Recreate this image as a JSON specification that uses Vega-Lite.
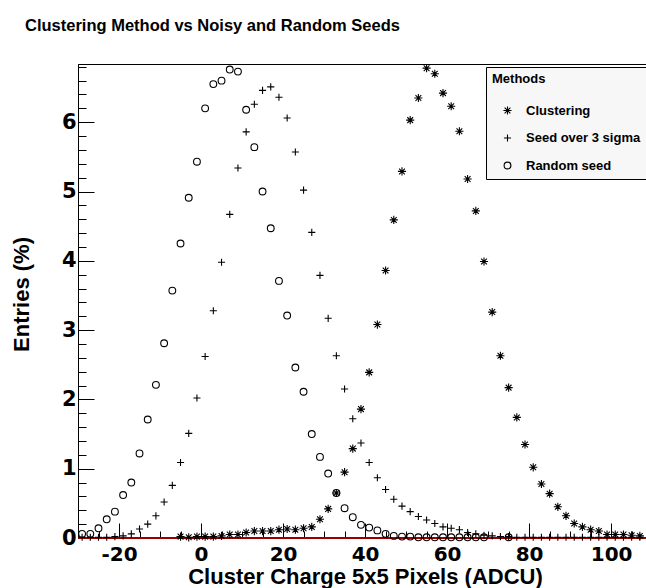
{
  "$schema": "https://vega.github.io/schema/vega-lite/v6.json",
  "autosize": "none",
  "width": 568,
  "height": 474,
  "padding": {"left": 78, "top": 64, "right": 0, "bottom": 50},
  "background": "white",
  "title": {
    "text": "Clustering Method vs Noisy and Random Seeds",
    "anchor": "start",
    "frame": "group",
    "dx": -53,
    "offset": 14,
    "baseline": "alphabetic",
    "font": "Liberation Sans",
    "fontSize": 16.5,
    "fontWeight": "bold",
    "color": "black"
  },
  "config": {
    "view": {"stroke": "black", "strokeWidth": 1},
    "axis": {"grid": false, "domainColor": "black", "tickColor": "black", "labelColor": "black", "titleColor": "black"}
  },
  "data": {"values": [
      {"method": "Clustering", "charge": -5, "entries": 0.02},
      {"method": "Clustering", "charge": -3, "entries": 0.01},
      {"method": "Clustering", "charge": -1, "entries": 0.02},
      {"method": "Clustering", "charge": 1, "entries": 0.02},
      {"method": "Clustering", "charge": 3, "entries": 0.02},
      {"method": "Clustering", "charge": 5, "entries": 0.03},
      {"method": "Clustering", "charge": 7, "entries": 0.05},
      {"method": "Clustering", "charge": 9, "entries": 0.05},
      {"method": "Clustering", "charge": 11, "entries": 0.08},
      {"method": "Clustering", "charge": 13, "entries": 0.10},
      {"method": "Clustering", "charge": 15, "entries": 0.10},
      {"method": "Clustering", "charge": 17, "entries": 0.10},
      {"method": "Clustering", "charge": 19, "entries": 0.12},
      {"method": "Clustering", "charge": 21, "entries": 0.13},
      {"method": "Clustering", "charge": 23, "entries": 0.12},
      {"method": "Clustering", "charge": 25, "entries": 0.14},
      {"method": "Clustering", "charge": 27, "entries": 0.16},
      {"method": "Clustering", "charge": 29, "entries": 0.27},
      {"method": "Clustering", "charge": 31, "entries": 0.42},
      {"method": "Clustering", "charge": 33, "entries": 0.65},
      {"method": "Clustering", "charge": 35, "entries": 0.95},
      {"method": "Clustering", "charge": 37, "entries": 1.29},
      {"method": "Clustering", "charge": 39, "entries": 1.86},
      {"method": "Clustering", "charge": 41, "entries": 2.39},
      {"method": "Clustering", "charge": 43, "entries": 3.08},
      {"method": "Clustering", "charge": 45, "entries": 3.86},
      {"method": "Clustering", "charge": 47, "entries": 4.59},
      {"method": "Clustering", "charge": 49, "entries": 5.29},
      {"method": "Clustering", "charge": 51, "entries": 6.03},
      {"method": "Clustering", "charge": 53, "entries": 6.35},
      {"method": "Clustering", "charge": 55, "entries": 6.78},
      {"method": "Clustering", "charge": 57, "entries": 6.70},
      {"method": "Clustering", "charge": 59, "entries": 6.42},
      {"method": "Clustering", "charge": 61, "entries": 6.23},
      {"method": "Clustering", "charge": 63, "entries": 5.87},
      {"method": "Clustering", "charge": 65, "entries": 5.18},
      {"method": "Clustering", "charge": 67, "entries": 4.72},
      {"method": "Clustering", "charge": 69, "entries": 3.99},
      {"method": "Clustering", "charge": 71, "entries": 3.26},
      {"method": "Clustering", "charge": 73, "entries": 2.63},
      {"method": "Clustering", "charge": 75, "entries": 2.17},
      {"method": "Clustering", "charge": 77, "entries": 1.74},
      {"method": "Clustering", "charge": 79, "entries": 1.35},
      {"method": "Clustering", "charge": 81, "entries": 1.02},
      {"method": "Clustering", "charge": 83, "entries": 0.78},
      {"method": "Clustering", "charge": 85, "entries": 0.64},
      {"method": "Clustering", "charge": 87, "entries": 0.45},
      {"method": "Clustering", "charge": 89, "entries": 0.32},
      {"method": "Clustering", "charge": 91, "entries": 0.21},
      {"method": "Clustering", "charge": 93, "entries": 0.16},
      {"method": "Clustering", "charge": 95, "entries": 0.12},
      {"method": "Clustering", "charge": 97, "entries": 0.10},
      {"method": "Clustering", "charge": 99, "entries": 0.05},
      {"method": "Clustering", "charge": 101, "entries": 0.05},
      {"method": "Clustering", "charge": 103, "entries": 0.05},
      {"method": "Clustering", "charge": 105, "entries": 0.04},
      {"method": "Clustering", "charge": 107, "entries": 0.03},
      {"method": "Seed over 3 sigma", "charge": -29, "entries": 0.01},
      {"method": "Seed over 3 sigma", "charge": -27, "entries": 0.01},
      {"method": "Seed over 3 sigma", "charge": -25, "entries": 0.01},
      {"method": "Seed over 3 sigma", "charge": -23, "entries": 0.01},
      {"method": "Seed over 3 sigma", "charge": -21, "entries": 0.02},
      {"method": "Seed over 3 sigma", "charge": -19, "entries": 0.03},
      {"method": "Seed over 3 sigma", "charge": -17, "entries": 0.06},
      {"method": "Seed over 3 sigma", "charge": -15, "entries": 0.13},
      {"method": "Seed over 3 sigma", "charge": -13, "entries": 0.20},
      {"method": "Seed over 3 sigma", "charge": -11, "entries": 0.32},
      {"method": "Seed over 3 sigma", "charge": -9, "entries": 0.52},
      {"method": "Seed over 3 sigma", "charge": -7, "entries": 0.76},
      {"method": "Seed over 3 sigma", "charge": -5, "entries": 1.09},
      {"method": "Seed over 3 sigma", "charge": -3, "entries": 1.51},
      {"method": "Seed over 3 sigma", "charge": -1, "entries": 2.02},
      {"method": "Seed over 3 sigma", "charge": 1, "entries": 2.62},
      {"method": "Seed over 3 sigma", "charge": 3, "entries": 3.28},
      {"method": "Seed over 3 sigma", "charge": 5, "entries": 3.98},
      {"method": "Seed over 3 sigma", "charge": 7, "entries": 4.67},
      {"method": "Seed over 3 sigma", "charge": 9, "entries": 5.34},
      {"method": "Seed over 3 sigma", "charge": 11, "entries": 5.86},
      {"method": "Seed over 3 sigma", "charge": 13, "entries": 6.26},
      {"method": "Seed over 3 sigma", "charge": 15, "entries": 6.46},
      {"method": "Seed over 3 sigma", "charge": 17, "entries": 6.51},
      {"method": "Seed over 3 sigma", "charge": 19, "entries": 6.36},
      {"method": "Seed over 3 sigma", "charge": 21, "entries": 6.06},
      {"method": "Seed over 3 sigma", "charge": 23, "entries": 5.57},
      {"method": "Seed over 3 sigma", "charge": 25, "entries": 5.02},
      {"method": "Seed over 3 sigma", "charge": 27, "entries": 4.41},
      {"method": "Seed over 3 sigma", "charge": 29, "entries": 3.79},
      {"method": "Seed over 3 sigma", "charge": 31, "entries": 3.17},
      {"method": "Seed over 3 sigma", "charge": 33, "entries": 2.63},
      {"method": "Seed over 3 sigma", "charge": 35, "entries": 2.15},
      {"method": "Seed over 3 sigma", "charge": 37, "entries": 1.72},
      {"method": "Seed over 3 sigma", "charge": 39, "entries": 1.37},
      {"method": "Seed over 3 sigma", "charge": 41, "entries": 1.09},
      {"method": "Seed over 3 sigma", "charge": 43, "entries": 0.87},
      {"method": "Seed over 3 sigma", "charge": 45, "entries": 0.70},
      {"method": "Seed over 3 sigma", "charge": 47, "entries": 0.56},
      {"method": "Seed over 3 sigma", "charge": 49, "entries": 0.46},
      {"method": "Seed over 3 sigma", "charge": 51, "entries": 0.38},
      {"method": "Seed over 3 sigma", "charge": 53, "entries": 0.31},
      {"method": "Seed over 3 sigma", "charge": 55, "entries": 0.26},
      {"method": "Seed over 3 sigma", "charge": 57, "entries": 0.21},
      {"method": "Seed over 3 sigma", "charge": 59, "entries": 0.16},
      {"method": "Seed over 3 sigma", "charge": 61, "entries": 0.14},
      {"method": "Seed over 3 sigma", "charge": 63, "entries": 0.12},
      {"method": "Seed over 3 sigma", "charge": 65, "entries": 0.08},
      {"method": "Seed over 3 sigma", "charge": 67, "entries": 0.06},
      {"method": "Seed over 3 sigma", "charge": 69, "entries": 0.04},
      {"method": "Seed over 3 sigma", "charge": 71, "entries": 0.03},
      {"method": "Seed over 3 sigma", "charge": 73, "entries": 0.02},
      {"method": "Seed over 3 sigma", "charge": 75, "entries": 0.02},
      {"method": "Seed over 3 sigma", "charge": 77, "entries": 0.01},
      {"method": "Seed over 3 sigma", "charge": 79, "entries": 0.01},
      {"method": "Seed over 3 sigma", "charge": 81, "entries": 0.01},
      {"method": "Seed over 3 sigma", "charge": 83, "entries": 0.01},
      {"method": "Seed over 3 sigma", "charge": 85, "entries": 0.01},
      {"method": "Seed over 3 sigma", "charge": 87, "entries": 0.01},
      {"method": "Seed over 3 sigma", "charge": 89, "entries": 0.01},
      {"method": "Seed over 3 sigma", "charge": 91, "entries": 0.01},
      {"method": "Seed over 3 sigma", "charge": 93, "entries": 0.01},
      {"method": "Seed over 3 sigma", "charge": 95, "entries": 0.01},
      {"method": "Seed over 3 sigma", "charge": 97, "entries": 0.01},
      {"method": "Seed over 3 sigma", "charge": 99, "entries": 0.01},
      {"method": "Seed over 3 sigma", "charge": 101, "entries": 0.01},
      {"method": "Seed over 3 sigma", "charge": 103, "entries": 0.01},
      {"method": "Seed over 3 sigma", "charge": 105, "entries": 0.01},
      {"method": "Seed over 3 sigma", "charge": 107, "entries": 0.01},
      {"method": "Random seed", "charge": -29, "entries": 0.06},
      {"method": "Random seed", "charge": -27, "entries": 0.06},
      {"method": "Random seed", "charge": -25, "entries": 0.14},
      {"method": "Random seed", "charge": -23, "entries": 0.27},
      {"method": "Random seed", "charge": -21, "entries": 0.38},
      {"method": "Random seed", "charge": -19, "entries": 0.62},
      {"method": "Random seed", "charge": -17, "entries": 0.80},
      {"method": "Random seed", "charge": -15, "entries": 1.22},
      {"method": "Random seed", "charge": -13, "entries": 1.71},
      {"method": "Random seed", "charge": -11, "entries": 2.21},
      {"method": "Random seed", "charge": -9, "entries": 2.81},
      {"method": "Random seed", "charge": -7, "entries": 3.57},
      {"method": "Random seed", "charge": -5, "entries": 4.25},
      {"method": "Random seed", "charge": -3, "entries": 4.91},
      {"method": "Random seed", "charge": -1, "entries": 5.43},
      {"method": "Random seed", "charge": 1, "entries": 6.20},
      {"method": "Random seed", "charge": 3, "entries": 6.55},
      {"method": "Random seed", "charge": 5, "entries": 6.60},
      {"method": "Random seed", "charge": 7, "entries": 6.76},
      {"method": "Random seed", "charge": 9, "entries": 6.73},
      {"method": "Random seed", "charge": 11, "entries": 6.18},
      {"method": "Random seed", "charge": 13, "entries": 5.64},
      {"method": "Random seed", "charge": 15, "entries": 5.00},
      {"method": "Random seed", "charge": 17, "entries": 4.47},
      {"method": "Random seed", "charge": 19, "entries": 3.71},
      {"method": "Random seed", "charge": 21, "entries": 3.21},
      {"method": "Random seed", "charge": 23, "entries": 2.46},
      {"method": "Random seed", "charge": 25, "entries": 2.11},
      {"method": "Random seed", "charge": 27, "entries": 1.50},
      {"method": "Random seed", "charge": 29, "entries": 1.17},
      {"method": "Random seed", "charge": 31, "entries": 0.93},
      {"method": "Random seed", "charge": 33, "entries": 0.65},
      {"method": "Random seed", "charge": 35, "entries": 0.43},
      {"method": "Random seed", "charge": 37, "entries": 0.30},
      {"method": "Random seed", "charge": 39, "entries": 0.19},
      {"method": "Random seed", "charge": 41, "entries": 0.15},
      {"method": "Random seed", "charge": 43, "entries": 0.11},
      {"method": "Random seed", "charge": 45, "entries": 0.06},
      {"method": "Random seed", "charge": 47, "entries": 0.03},
      {"method": "Random seed", "charge": 49, "entries": 0.02},
      {"method": "Random seed", "charge": 51, "entries": 0.02},
      {"method": "Random seed", "charge": 53, "entries": 0.01},
      {"method": "Random seed", "charge": 55, "entries": 0.01},
      {"method": "Random seed", "charge": 57, "entries": 0.01},
      {"method": "Random seed", "charge": 59, "entries": 0.01},
      {"method": "Random seed", "charge": 61, "entries": 0.01},
      {"method": "Random seed", "charge": 63, "entries": 0.01},
      {"method": "Random seed", "charge": 65, "entries": 0.01},
      {"method": "Random seed", "charge": 67, "entries": 0.01},
      {"method": "Random seed", "charge": 69, "entries": 0.01},
      {"method": "Random seed", "charge": 75, "entries": 0.01}
  ]},
  "resolve": {"axis": {"x": "independent", "y": "independent"}},
  "layer": [
    {
      "mark": {"type": "rule", "color": "#990000", "strokeWidth": 1.5},
      "encoding": {
        "x": {
          "datum": -30,
          "type": "quantitative",
          "scale": {"domain": [-30, 108.5], "nice": false, "zero": false},
          "axis": {
            "orient": "bottom",
            "values": [-30, -25, -15, -10, -5, 5, 10, 15, 25, 30, 35, 45, 50, 55, 65, 70, 75, 85, 90, 95, 105],
            "labels": false,
            "title": null,
            "domain": false,
            "tickSize": -7
          }
        },
        "x2": {"datum": 108.5},
        "y": {
          "datum": 0,
          "type": "quantitative",
          "scale": {"domain": [0, 6.84], "nice": false, "zero": false},
          "axis": {
            "orient": "left",
            "values": [0.2, 0.4, 0.6, 0.8, 1.2, 1.4, 1.6, 1.8, 2.2, 2.4, 2.6, 2.8, 3.2, 3.4, 3.6, 3.8, 4.2, 4.4, 4.6, 4.8, 5.2, 5.4, 5.6, 5.8, 6.2, 6.4, 6.6, 6.8],
            "labels": false,
            "title": null,
            "domain": false,
            "tickSize": -8
          }
        }
      }
    },
    {
      "mark": {"type": "point", "filled": false, "color": "black", "strokeWidth": 1.1, "size": 46, "opacity": 1},
      "encoding": {
        "x": {
          "field": "charge",
          "type": "quantitative",
          "axis": {
            "orient": "bottom",
            "title": "Cluster Charge 5x5 Pixels (ADCU)",
            "titleFont": "Liberation Sans",
            "titleFontSize": 22,
            "titleFontWeight": "bold",
            "titleX": 287,
            "titleY": 45,
            "titleBaseline": "alphabetic",
            "titleAlign": "center",
            "values": [-20, 0, 20, 40, 60, 80, 100],
            "labelExpr": "datum.value < 0 ? '-' + abs(datum.value) : '' + datum.value",
            "tickSize": -15,
            "labelPadding": 21,
            "labelFont": "DejaVu Sans",
            "labelFontSize": 20,
            "labelFontWeight": "bold",
            "labelOverlap": false,
            "labelFlush": false
          }
        },
        "y": {
          "field": "entries",
          "type": "quantitative",
          "axis": {
            "orient": "left",
            "title": "Entries (%)",
            "titleFont": "Liberation Sans",
            "titleFontSize": 22,
            "titleFontWeight": "bold",
            "titleX": -50,
            "titleY": 230,
            "titleAngle": -90,
            "titleBaseline": "alphabetic",
            "titleAlign": "center",
            "values": [0, 1, 2, 3, 4, 5, 6],
            "format": "d",
            "tickSize": -16,
            "labelPadding": 18,
            "labelFont": "DejaVu Sans",
            "labelFontSize": 21,
            "labelFontWeight": "bold",
            "labelOverlap": false,
            "labelFlush": false
          }
        },
        "shape": {
          "field": "method",
          "type": "nominal",
          "scale": {
            "domain": ["Clustering", "Seed over 3 sigma", "Random seed"],
            "range": [
              "M-1.2,0L1.2,0M0,-1.2L0,1.2M-0.85,-0.85L0.85,0.85M-0.85,0.85L0.85,-0.85",
              "M-1.05,0L1.05,0M0,-1.05L0,1.05",
              "circle"
            ]
          },
          "legend": {
            "title": "Methods",
            "orient": "none",
            "legendX": 408,
            "legendY": 3,
            "fillColor": "#f7f7f7",
            "strokeColor": "black",
            "padding": 6,
            "rowPadding": 13.5,
            "titlePadding": 18,
            "symbolOffset": 9,
            "labelOffset": 12,
            "titleFont": "Liberation Sans",
            "titleFontSize": 13,
            "titleFontWeight": "bold",
            "titleColor": "black",
            "labelFont": "Liberation Sans",
            "labelFontSize": 13,
            "labelFontWeight": "bold",
            "labelColor": "black",
            "symbolStrokeColor": "black",
            "symbolStrokeWidth": 1.1,
            "symbolSize": 46
          }
        }
      }
    }
  ]
}
